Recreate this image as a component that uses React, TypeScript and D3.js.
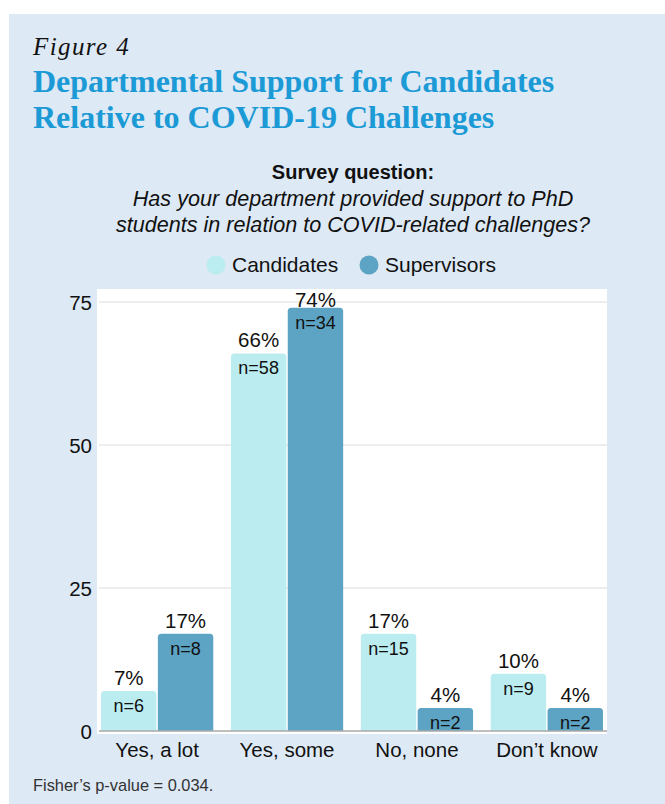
import React from 'react';
import * as d3 from 'd3';

const categories = ['Yes, a lot', 'Yes, some', 'No, none', 'Don\u2019t know'];
const seriesNames = ['Candidates', 'Supervisors'];
const candidatesPct = [7, 66, 17, 10];
const supervisorsPct = [17, 74, 4, 4];
const candidatesN = [6, 58, 15, 9];
const supervisorsN = [8, 34, 2, 2];
const yTicks = [0, 25, 50, 75];
const seriesColors = ['#bbecef', '#5da3c4'];

const W = 665;
const H = 804;
const plot = { left: 97, right: 607, top: 289, bottom: 734 };
const SANS = '"Liberation Sans", Arial, Helvetica, sans-serif';
const SERIF = '"Liberation Serif", "Times New Roman", serif';

function topRoundedRect(x: number, y: number, w: number, h: number, r: number) {
  const rr = Math.min(r, h, w / 2);
  const p = d3.path();
  p.moveTo(x, y + h);
  p.lineTo(x, y + rr);
  p.arcTo(x, y, x + rr, y, rr);
  p.lineTo(x + w - rr, y);
  p.arcTo(x + w, y, x + w, y + rr, rr);
  p.lineTo(x + w, y + h);
  p.closePath();
  return p.toString();
}

export default function App() {
  const y = d3.scaleLinear().domain([0, 75]).range([731, 302]);
  const x0 = d3
    .scaleBand<string>()
    .domain(categories)
    .range([plot.left, plot.right])
    .paddingInner(0.136)
    .paddingOuter(0.031);
  const x1 = d3
    .scaleBand<string>()
    .domain(seriesNames)
    .range([0, x0.bandwidth()])
    .paddingInner(0.025);

  const series = [
    { name: seriesNames[0], pct: candidatesPct, n: candidatesN, color: seriesColors[0] },
    { name: seriesNames[1], pct: supervisorsPct, n: supervisorsN, color: seriesColors[1] },
  ];

  const legendItems = [
    { name: seriesNames[0], color: seriesColors[0], cx: 216, tx: 232 },
    { name: seriesNames[1], color: seriesColors[1], cx: 369, tx: 385 },
  ];

  return (
    <svg
      width={W}
      height={H}
      style={{ position: 'absolute', left: 0, top: 0, display: 'block' }}
    >
      <rect x={0} y={0} width={W} height={H} fill="#ffffff" />
      <rect x={9} y={14} width={W - 9} height={H - 14} fill="#dde9f5" />

      <text x={33} y={55} fontFamily={SERIF} fontStyle="italic" fontSize={25} letterSpacing={1.4} fill="#111">
        Figure 4
      </text>
      <text x={33} y={92} fontFamily={SERIF} fontWeight="bold" fontSize={32} fill="#1b9ad6">
        Departmental Support for Candidates
      </text>
      <text x={33} y={128} fontFamily={SERIF} fontWeight="bold" fontSize={32} fill="#1b9ad6">
        Relative to COVID-19 Challenges
      </text>

      <text x={353} y={179} textAnchor="middle" fontFamily={SANS} fontWeight="bold" fontSize={20} fill="#111">
        Survey question:
      </text>
      <text x={353} y={206} textAnchor="middle" fontFamily={SANS} fontStyle="italic" fontSize={21.6} fill="#111">
        Has your department provided support to PhD
      </text>
      <text x={353} y={232} textAnchor="middle" fontFamily={SANS} fontStyle="italic" fontSize={21.6} fill="#111">
        students in relation to COVID-related challenges?
      </text>

      {legendItems.map((l) => (
        <g key={l.name}>
          <circle cx={l.cx} cy={265} r={9.5} fill={l.color} />
          <text x={l.tx} y={272} fontFamily={SANS} fontSize={21} fill="#111">
            {l.name}
          </text>
        </g>
      ))}

      <rect
        x={plot.left}
        y={plot.top}
        width={plot.right - plot.left}
        height={plot.bottom - plot.top}
        fill="#ffffff"
      />

      {yTicks.map((t) => (
        <g key={t}>
          {t > 0 && (
            <line x1={plot.left + 2} x2={plot.right} y1={y(t)} y2={y(t)} stroke="#dcdcdc" strokeWidth={1} />
          )}
          <text x={92} y={y(t) + 8} textAnchor="end" fontFamily={SANS} fontSize={20.5} fill="#111">
            {t}
          </text>
        </g>
      ))}

      {categories.map((c, i) => (
        <g key={c} transform={`translate(${x0(c)},0)`}>
          {series.map((s) => {
            const bx = x1(s.name) as number;
            const bw = x1.bandwidth();
            const by = y(s.pct[i]);
            const bh = y(0) - by;
            const pctY = Math.max(by - 6, y(75) + 5);
            return (
              <g key={s.name}>
                <path d={topRoundedRect(bx, by, bw, bh, 3.5)} fill={s.color} />
                <text
                  x={bx + bw / 2}
                  y={pctY}
                  textAnchor="middle"
                  fontFamily={SANS}
                  fontSize={20.5}
                  fill="#111"
                >
                  {`${s.pct[i]}%`}
                </text>
                <text
                  x={bx + bw / 2}
                  y={by + 21}
                  textAnchor="middle"
                  fontFamily={SANS}
                  fontSize={18}
                  fill="#111"
                >
                  {`n=${s.n[i]}`}
                </text>
              </g>
            );
          })}
          <text
            x={x0.bandwidth() / 2}
            y={757}
            textAnchor="middle"
            fontFamily={SANS}
            fontSize={20.5}
            fill="#111"
          >
            {c}
          </text>
        </g>
      ))}

      <line x1={plot.left + 2} x2={plot.right} y1={y(0)} y2={y(0)} stroke="#a9a9a9" strokeWidth={1.5} />

      <text x={33} y={791} fontFamily={SANS} fontSize={16.4} fill="#333">
        Fisher’s p-value = 0.034.
      </text>
    </svg>
  );
}
